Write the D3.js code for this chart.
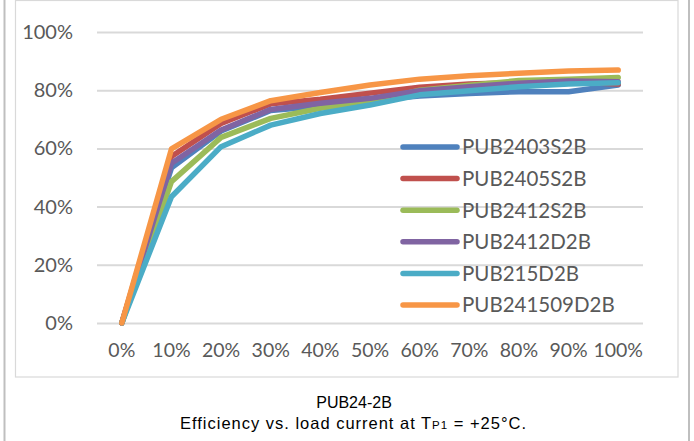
<!DOCTYPE html>
<html><head><meta charset="utf-8">
<script src="https://cdn.jsdelivr.net/npm/d3@7/dist/d3.min.js"></script>
<style>html,body{margin:0;padding:0;background:#fff;}svg{display:block;}</style>
</head><body>
<svg id="c" width="694" height="441"></svg>
<script>
const categories = ["0%","10%","20%","30%","40%","50%","60%","70%","80%","90%","100%"];
const seriesNames = ["PUB2403S2B","PUB2405S2B","PUB2412S2B","PUB2412D2B","PUB215D2B","PUB241509D2B"];
const colors = ["#4F81BD","#C0504D","#9BBB59","#8064A2","#4BACC6","#F79646"];
const s2403 = [0, 0.533, 0.660, 0.730, 0.745, 0.765, 0.780, 0.789, 0.795, 0.795, 0.818];
const s2405 = [0, 0.572, 0.686, 0.753, 0.769, 0.790, 0.810, 0.821, 0.827, 0.829, 0.821];
const s2412S = [0, 0.486, 0.638, 0.703, 0.738, 0.760, 0.800, 0.817, 0.833, 0.838, 0.844];
const s2412D = [0, 0.549, 0.663, 0.734, 0.755, 0.772, 0.798, 0.812, 0.824, 0.832, 0.829];
const s215 = [0, 0.434, 0.606, 0.680, 0.720, 0.749, 0.784, 0.798, 0.812, 0.821, 0.826];
const s241509 = [0, 0.598, 0.700, 0.764, 0.792, 0.818, 0.838, 0.850, 0.858, 0.866, 0.869];
const seriesValues = [s2403, s2405, s2412S, s2412D, s215, s241509];
const yTicks = [0, 0.2, 0.4, 0.6, 0.8, 1.0];

const svg = d3.select("#c");
const font = "Lato, 'Open Sans', sans-serif";

// frames
svg.append("line").attr("x1",4.5).attr("x2",4.5).attr("y1",0).attr("y2",441).attr("stroke","#bfbfbf").attr("stroke-width",2);
svg.append("line").attr("x1",689).attr("x2",689).attr("y1",0).attr("y2",441).attr("stroke","#bfbfbf").attr("stroke-width",2);
svg.append("rect").attr("x",15.5).attr("y",0.5).attr("width",662.5).attr("height",376.5)
  .attr("fill","none").attr("stroke","#d9d9d9").attr("stroke-width",1.2);

const x = d3.scaleBand().domain(categories).range([97, 643]).padding(0);
const y = d3.scaleLinear().domain([0, 1]).range([323, 32]);

// gridlines
const yAxis = d3.axisLeft(y).tickValues(yTicks).tickSize(-(643-97)).tickFormat(d3.format(".0%")).tickPadding(24);
const gy = svg.append("g").attr("transform","translate(97,0)").call(yAxis);
gy.select(".domain").remove();
gy.selectAll(".tick line").attr("stroke","#d9d9d9").attr("stroke-width",2);
gy.selectAll(".tick text").attr("font-family",font).attr("font-size",20).attr("fill","#595959");

const xAxis = d3.axisBottom(x).tickSize(0).tickPadding(20);
const gx = svg.append("g").attr("transform","translate(0,323)").call(xAxis);
gx.select(".domain").remove();
gx.selectAll(".tick text").attr("font-family",font).attr("font-size",19.5).attr("fill","#595959");

const line = d3.line().x((d,i)=>x(categories[i]) + x.bandwidth()/2).y(d=>y(d));
seriesValues.forEach((vals, k) => {
  svg.append("path").datum(vals).attr("d", line).attr("fill","none")
    .attr("stroke", colors[k]).attr("stroke-width",5.5)
    .attr("stroke-linejoin","round").attr("stroke-linecap","round");
});

// legend
const lg = svg.append("g");
seriesNames.forEach((n,k)=>{
  const yy = 147 + k*31.6;
  lg.append("line").attr("x1",403).attr("x2",457).attr("y1",yy).attr("y2",yy)
    .attr("stroke",colors[k]).attr("stroke-width",5.5).attr("stroke-linecap","round");
  lg.append("text").attr("x",462).attr("y",yy).attr("dy","0.36em").attr("font-family",font)
    .attr("font-size",20.5).attr("fill","#595959").text(n);
});

// caption
const cap = svg.append("g").attr("font-family","'Liberation Sans', Arial, sans-serif").attr("fill","#000").attr("text-anchor","middle");
cap.append("text").attr("x",354).attr("y",408).attr("font-size",16).text("PUB24-2B");
const t2 = cap.append("text").attr("x",353).attr("y",429).attr("font-size",16.5)
  .attr("textLength",346).attr("lengthAdjust","spacing");
t2.append("tspan").text("Efficiency vs. load current at T");
t2.append("tspan").attr("font-size",11.5).text("P1");
t2.append("tspan").text(" = +25°C.");
</script>
</body></html>
